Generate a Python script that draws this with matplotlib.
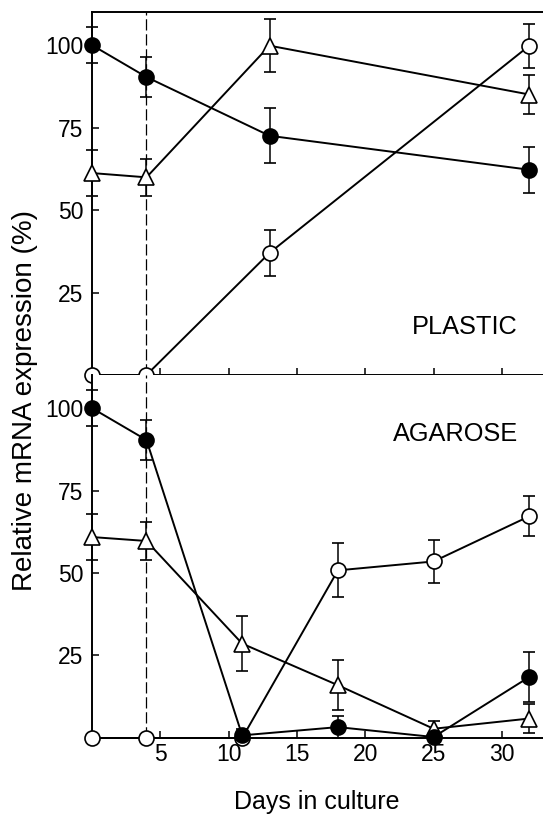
import numpy as np
import matplotlib
matplotlib.use('Agg')
import matplotlib.pyplot as plt

plt.rcParams['font.family'] = ['Liberation Sans', 'DejaVu Sans']

# dias de cultivo
dias_plastic = [0, 4, 13, 32]
dias_agarose = [0, 4, 11, 18, 25, 32]

# PLASTIC
plastic_lleno = [100, 90.3, 72.5, 62.2]
plastic_lleno_err = [5.6, 6, 8.3, 7]
plastic_triang = [61.2, 59.9, 99.8, 85]
plastic_triang_err = [7, 5.6, 8, 5.8]
plastic_vacio = [0, 0, 37, 99.8]
plastic_vacio_err = [0, 0, 7, 6.7]

# AGAROSE
agarose_lleno = [100, 90.3, 0.8, 3.3, 0.3, 18.5]
agarose_lleno_err = [5.6, 6, 2, 3.4, 0, 7.6]
agarose_triang = [60.9, 59.7, 28.6, 16, 2.8, 5.9]
agarose_triang_err = [7, 5.7, 8.3, 7.6, 2.3, 4.3]
agarose_vacio = [0, 0, 0, 50.8, 53.5, 67.2]
agarose_vacio_err = [0, 0, 0, 8.2, 6.5, 6]

xticks = [5, 10, 15, 20, 25, 30]
yticks = [25, 50, 75, 100]

fig = plt.figure(figsize=(5.43, 8.17), dpi=100)
ax1 = fig.add_axes([0.169, 0.541, 0.831, 0.4443])
ax2 = fig.add_axes([0.169, 0.0967, 0.831, 0.4443])


def serie(ax, x, y, err, fc, marker):
    ax.errorbar(x, y, yerr=err, color='black', mfc=fc, mec='black', marker=marker,
                ms=10.8 if marker == 'o' else 11.2, mew=1.2, lw=1.4, elinewidth=1.1,
                capsize=4.5, capthick=1.1, clip_on=False, zorder=3)


serie(ax1, dias_plastic, plastic_vacio, plastic_vacio_err, 'white', 'o')
serie(ax1, dias_plastic, plastic_triang, plastic_triang_err, 'white', '^')
serie(ax1, dias_plastic, plastic_lleno, plastic_lleno_err, 'black', 'o')

serie(ax2, dias_agarose, agarose_vacio, agarose_vacio_err, 'white', 'o')
serie(ax2, dias_agarose, agarose_triang, agarose_triang_err, 'white', '^')
serie(ax2, dias_agarose, agarose_lleno, agarose_lleno_err, 'black', 'o')

for ax in (ax1, ax2):
    ax.axvline(4, color='black', lw=0.9, dashes=(9, 3), zorder=1)
    ax.set_xlim(0, 33)
    ax.set_ylim(0, 110)
    ax.set_xticks(xticks)
    ax.set_yticks(yticks)
    ax.tick_params(direction='in', length=5, width=1.1, labelsize=16.5)
    ax.tick_params(axis='y', pad=6)
    ax.spines['right'].set_visible(False)
    for s in ('left', 'bottom', 'top'):
        ax.spines[s].set_linewidth(1.4)

ax1.tick_params(labelbottom=False)
ax2.spines['top'].set_visible(False)

ax1.text(27.3, 14.4, 'PLASTIC', fontsize=18.3, ha='center', va='center')
ax2.text(26.6, 92.2, 'AGAROSE', fontsize=18.3, ha='center', va='center')

fig.text(0.046, 0.51, 'Relative mRNA expression (%)', rotation=90, fontsize=20,
         ha='center', va='center')
fig.text(0.584, 0.018, 'Days in culture', fontsize=18, ha='center', va='center')

fig.savefig('out.png', dpi=100)
